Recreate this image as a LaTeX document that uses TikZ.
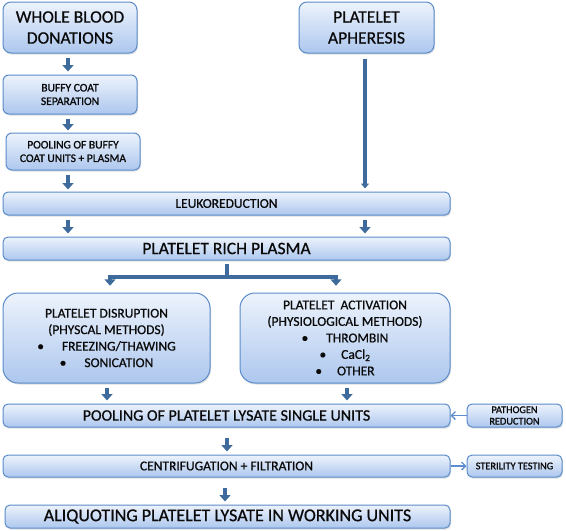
\documentclass[tikz,border=0pt]{standalone}
\usepackage{fontspec}
\setmainfont{Carlito}[FakeBold=0.7]
\newfontfamily\smallbold{Carlito}[FakeBold=1.3]
\usetikzlibrary{arrows.meta,shadows,calc}
\definecolor{bordc}{HTML}{5B8BC9}
\definecolor{topc}{HTML}{EDF3FC}
\definecolor{botc}{HTML}{ADC7EE}
\definecolor{arrc}{HTML}{3F6B9C}
\definecolor{thinc}{HTML}{5E8ECF}
\definecolor{txtc}{HTML}{0A0A0A}
\tikzset{
  box/.style={draw=bordc, line width=1pt, top color=topc, bottom color=botc,
    rounded corners=#1, align=center, text=txtc, inner sep=1pt,
    drop shadow={opacity=0.25, shadow xshift=1pt, shadow yshift=-1.5pt}},
  box/.default=6pt,
  blk/.style={draw=arrc, line width=4.5pt, -{Triangle[length=6.5pt,width=11pt]}},
  feed/.style={draw=arrc, line width=3.6pt, -{Triangle[length=5pt,width=8pt]}},
  thin/.style={draw=thinc, line width=1.3pt, -{Straight Barb[length=4pt,width=8pt]}},
  split/.style={draw=arrc, line width=4.5pt},
}
\begin{document}
\begin{tikzpicture}[x=1pt,y=1pt]
\useasboundingbox (0,0) rectangle (566,-531);
% top boxes
\node[box=8pt, minimum width=134pt, minimum height=51pt, font=\fontsize{17.5}{21}\selectfont] (wb) at (70,-27.5) {WHOLE BLOOD\\DONATIONS};
\node[box=8pt, minimum width=135pt, minimum height=51pt, font=\fontsize{17.5}{21}\selectfont] (ap) at (366.5,-27.5) {PLATELET\\APHERESIS};
\node[box=6pt, minimum width=134pt, minimum height=39pt, font=\smallbold\fontsize{11.5}{13.5}\selectfont] (bc) at (70,-94.5) {BUFFY COAT\\SEPARATION};
\node[box=6pt, minimum width=134pt, minimum height=37pt, font=\smallbold\fontsize{11.5}{13.5}\selectfont] (pb) at (73,-151.5) {POOLING OF BUFFY\\COAT UNITS + PLASMA};
% wide bars
\node[box=5pt, minimum width=447pt, minimum height=23pt, font=\fontsize{13.5}{15}\selectfont] (lk) at (226.5,-203.5) {LEUKOREDUCTION};
\node[box=5pt, minimum width=447pt, minimum height=23pt, font=\fontsize{17.5}{20}\selectfont] (prp) at (226.5,-248.5) {PLATELET RICH PLASMA};
% method boxes
\node[box=15pt, minimum width=207pt, minimum height=90pt, font=\fontsize{13.5}{16.5}\selectfont] (dis) at (106.5,-338) {PLATELET DISRUPTION\\(PHYSCAL METHODS)\\\textbullet\hspace{18pt}FREEZING/THAWING\\\textbullet\hspace{18pt}SONICATION};
\node[box=15pt, minimum width=210pt, minimum height=90pt, font=\fontsize{13.5}{16.5}\selectfont] (act) at (345,-338) {PLATELET\ \ ACTIVATION\\(PHYSIOLOGICAL METHODS)\\\textbullet\hspace{18pt}THROMBIN\\\textbullet\hspace{15pt}CaCl\textsubscript{2}\\\textbullet\hspace{15pt}OTHER};
% lower bars
\node[box=5pt, minimum width=447pt, minimum height=23pt, font=\fontsize{16}{18}\selectfont] (pool) at (226.5,-415.5) {POOLING OF PLATELET LYSATE SINGLE UNITS};
\node[box=5pt, minimum width=95pt, minimum height=23pt, font=\smallbold\fontsize{10.3}{11.5}\selectfont] (pat) at (514.5,-415.5) {PATHOGEN\\REDUCTION};
\node[box=5pt, minimum width=447pt, minimum height=22pt, font=\fontsize{13.5}{15}\selectfont] (cen) at (226.5,-466) {CENTRIFUGATION + FILTRATION};
\node[box=5pt, minimum width=95pt, minimum height=22pt, font=\smallbold\fontsize{10.3}{11.5}\selectfont] (ste) at (514.5,-466) {STERILITY TESTING};
\node[box=5pt, minimum width=445pt, minimum height=23pt, font=\fontsize{18}{20}\selectfont] (ali) at (227.5,-516.5) {ALIQUOTING PLATELET LYSATE IN WORKING UNITS};
% block arrows on left chain
\draw[blk] ([xshift=-2pt,yshift=-4pt]wb.south) -- ([xshift=-2pt,yshift=3pt]bc.north);
\draw[blk] ([xshift=-2pt,yshift=-4pt]bc.south) -- ([xshift=-2pt,yshift=2pt]bc.south |- pb.north);
\draw[blk] ([xshift=-5pt,yshift=-4pt]pb.south) -- ([xshift=-2pt,yshift=2pt]bc.south |- lk.north);
% apheresis feed
\draw[feed] ([xshift=-1.5pt,yshift=-5pt]ap.south) -- ([xshift=-1.5pt,yshift=3pt]ap.south |- lk.north);
% leuko to PRP
\draw[blk] ([xshift=-2pt,yshift=-4pt]lk.south -| wb.south) -- ([xshift=-2pt,yshift=3pt]prp.north -| wb.south);
\draw[blk] ([xshift=-1.5pt,yshift=-4pt]lk.south -| ap.south) -- ([xshift=-1.5pt,yshift=3pt]prp.north -| ap.south);
% split
\coordinate (sp) at ($(prp.south)+(0.5,-3.5)$);
\coordinate (spl) at (110,-277);
\coordinate (spr) at (336,-277);
\draw[split] (sp) -- (sp |- spl);
\draw[split, line cap=butt] ([xshift=-2.25pt]spl) -- ([xshift=2.25pt]spr);
\draw[blk] ([yshift=2.25pt]spl) -- ++(0,-11pt);
\draw[blk] ([yshift=2.25pt]spr) -- ++(0,-11pt);
% methods to pooling
\draw[blk] ([xshift=0.5pt,yshift=-4pt]dis.south) -- ([xshift=0.5pt,yshift=3pt]dis.south |- pool.north);
\draw[blk] ([xshift=2pt,yshift=-4pt]act.south) -- ([xshift=2pt,yshift=3pt]act.south |- pool.north);
% pooling down
\draw[blk] ([xshift=0.5pt,yshift=-10pt]pool.south) -- ([xshift=0.5pt,yshift=3pt]cen.north);
\draw[blk] ([xshift=-1.5pt,yshift=-10pt]cen.south) -- ([xshift=-1.5pt,yshift=3pt]cen.south |- ali.north);
% side arrows
\draw[thin] (pat.west) -- (pool.east);
\draw[thin] (cen.east) -- (ste.west);
\end{tikzpicture}
\end{document}
